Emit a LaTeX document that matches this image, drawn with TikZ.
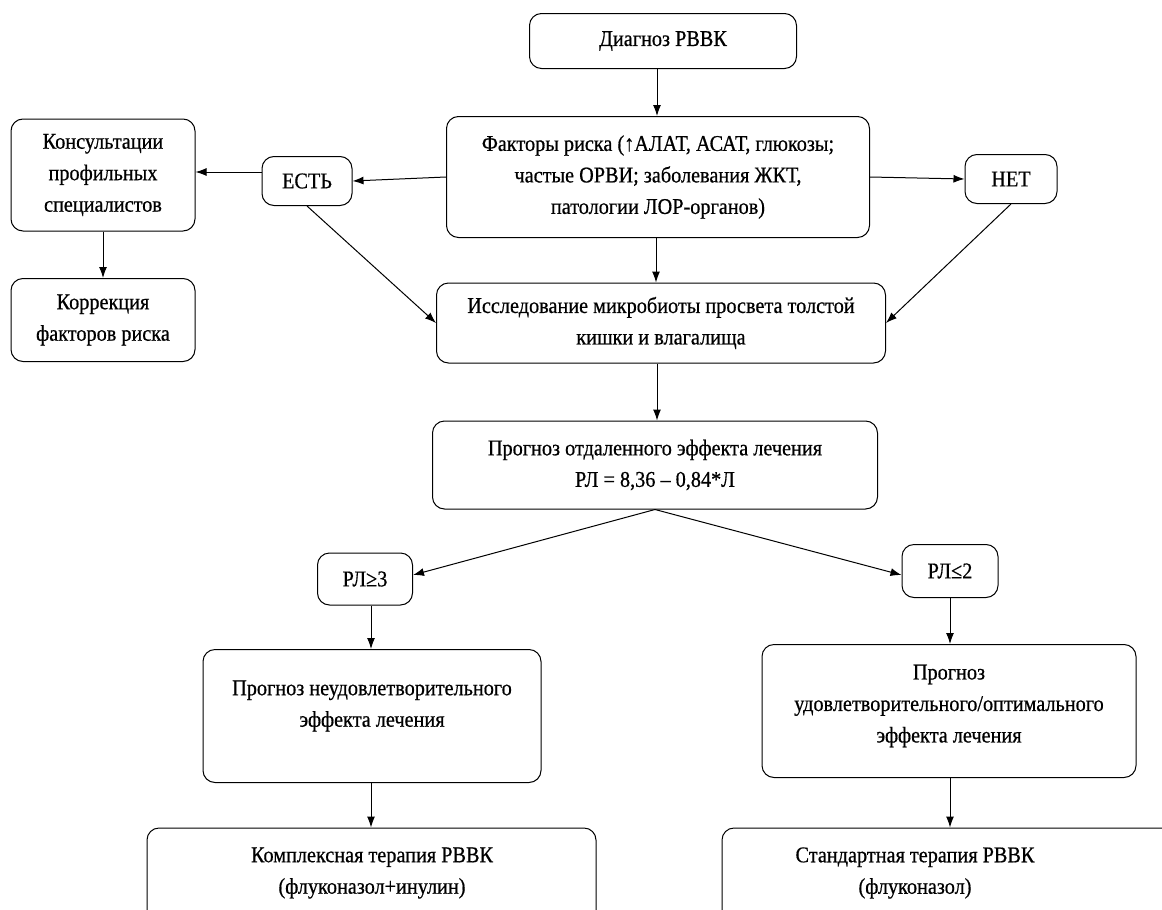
\documentclass[tikz,border=0pt]{standalone}
\usepackage{fontspec}
\setmainfont{Liberation Serif}[FakeStretch=0.9,FakeBold=0.6]
\usetikzlibrary{arrows.meta}
\begin{document}
\begin{tikzpicture}[x=1pt,y=-1pt,
  box/.style={draw, rounded corners=12pt, line width=1pt, align=center, inner sep=0pt,
    font=\rmfamily\fontsize{22.5}{31.5}\selectfont},
  lbl/.style={align=center, inner sep=0pt, font=\rmfamily\fontsize{22.5}{31.5}\selectfont},
  arr/.style={-{Latex[length=11pt,width=8pt]}, line width=1pt}]
\clip (0,0) rectangle (1162,910);
\fill[white] (0,0) rectangle (1162,910);

\node[box, minimum width=267pt, minimum height=55pt] (diag) at (663,41) {Диагноз РВВК};
\node[box, minimum width=423pt, minimum height=121pt] (fact) at (658,177)
  {Факторы риска (↑АЛАТ, АСАТ, глюкозы;\\частые ОРВИ; заболевания ЖКТ,\\патологии ЛОР-органов)};
\node[box, minimum width=90pt, minimum height=49pt] (est) at (307,181) {ЕСТЬ};
\node[box, minimum width=92pt, minimum height=49pt] (net) at (1011,179) {НЕТ};
\node[box, minimum width=184pt, minimum height=112pt] (kons) at (103,175)
  {Консультации\\профильных\\специалистов};
\node[box, minimum width=184pt, minimum height=83pt] (korr) at (103,320)
  {Коррекция\\факторов риска};
\node[box, minimum width=449pt, minimum height=80pt] (issl) at (661,323)
  {Исследование микробиоты просвета толстой\\кишки и влагалища};
\node[box, minimum width=445pt, minimum height=88pt] (prog) at (655,465)
  {Прогноз отдаленного эффекта лечения\\РЛ = 8,36 – 0,84*Л};
\node[box, minimum width=95pt, minimum height=52pt] (rl3) at (365,579) {РЛ≥3};
\node[box, minimum width=96pt, minimum height=53pt] (rl2) at (950,571) {РЛ≤2};
\node[box, minimum width=338pt, minimum height=133pt] (neud) at (372,716) {};
\node[lbl] (neudt) at (372,706) {Прогноз неудовлетворительного\\эффекта лечения};
\node[box, minimum width=374pt, minimum height=133pt] (udov) at (949,711) {};
\node[lbl] (udovt) at (949,706) {Прогноз\\удовлетворительного/оптимального\\эффекта лечения};
\node[box, minimum width=449pt, minimum height=130pt] (kompl) at (371.5,893) {};
\node[lbl] (komplt) at (372,873) {Комплексная терапия РВВК\\(флуконазол+инулин)};
\node[box, minimum width=478pt, minimum height=130pt] (stand) at (961,893) {};
\node[lbl] (standt) at (915,873) {Стандартная терапия РВВК\\(флуконазол)};

\draw[arr] (diag.south -| 657,0) -- (fact.north -| 657,0);
\draw[arr] (fact.west) -- (est.east);
\draw[arr] ([yshift=9pt]est.west) -- ([yshift=9pt]est.west -| kons.east);
\draw[arr] (fact.east) -- (net.west);
\draw[arr] (kons.south) -- (korr.south |- korr.north);
\draw[arr] (est.south) -- (issl.west);
\draw[arr] (net.south) -- (issl.east);
\draw[arr] (fact.south -| 656,0) -- (issl.north -| 656,0);
\draw[arr] (issl.south -| 657,0) -- (prog.north -| 657,0);
\draw[arr] (prog.south) -- ([yshift=4pt]rl3.east);
\draw[arr] (prog.south) -- ([yshift=-4pt]rl2.west);
\draw[arr] (rl3.south -| 371,0) -- (neud.north -| 371,0);
\draw[arr] (rl2.south) -- (udov.north -| rl2.south);
\draw[arr] (neud.south -| 371,0) -- (kompl.north -| 371,0);
\draw[arr] (udov.south -| 950,0) -- (stand.north -| 950,0);
\end{tikzpicture}
\end{document}
